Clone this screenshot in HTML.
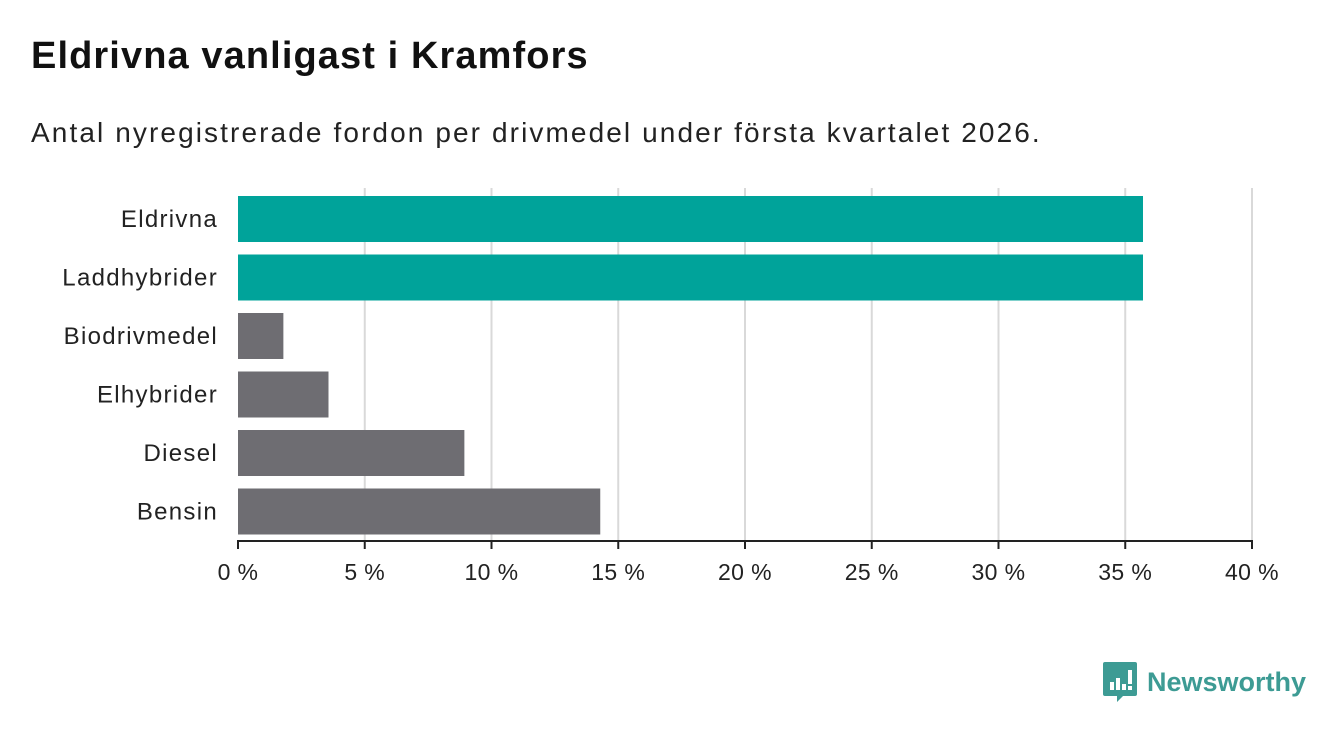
<!DOCTYPE html>
<html><head><meta charset="utf-8"><style>
body{margin:0;width:1340px;height:733px;background:#fff;font-family:"Liberation Sans",sans-serif;overflow:hidden;position:relative}
h1{position:absolute;left:31px;top:35px;margin:0;font-size:38px;font-weight:bold;color:#111;letter-spacing:1.1px}
.sub{position:absolute;left:31px;top:117px;font-size:28px;color:#222;letter-spacing:2.1px}
svg{position:absolute;left:0;top:0}
</style></head><body>
<h1>Eldrivna vanligast i Kramfors</h1>
<div class="sub">Antal nyregistrerade fordon per drivmedel under första kvartalet 2026.</div>
<svg id="chart" width="1340" height="733"></svg>
<div style="position:absolute;left:1103px;top:662px;display:flex;align-items:center">
<svg width="34" height="40" style="position:static" viewBox="0 0 34 40"><path d="M2 0h30a2 2 0 0 1 2 2v30a2 2 0 0 1-2 2H20l-6 6v-6H2a2 2 0 0 1-2-2V2a2 2 0 0 1 2-2z" fill="#3d9b94"/><rect x="7" y="20" width="4" height="8" fill="#fff"/><rect x="13" y="16" width="4" height="12" fill="#fff"/><rect x="19" y="22" width="4" height="6" fill="#fff"/><rect x="25" y="8" width="4" height="14" fill="#fff"/><rect x="25" y="24" width="4" height="4" fill="#fff"/></svg>
<span style="font-size:27px;font-weight:bold;color:#3d9b94;margin-left:10px">Newsworthy</span></div>
<script>
const categories=["Eldrivna","Laddhybrider","Biodrivmedel","Elhybrider","Diesel","Bensin"];
const values=[35.7,35.7,1.79,3.57,8.93,14.29];
const highlight=[true,true,false,false,false,false];
const ticks=[0,5,10,15,20,25,30,35,40];
const tickLabels=["0 %","5 %","10 %","15 %","20 %","25 %","30 %","35 %","40 %"];
const NS="http://www.w3.org/2000/svg",svg=document.getElementById("chart");
const x0=238,x1=1252,xs=v=>x0+(v/40)*(x1-x0);
const yTop=190,pitch=58.5,bh=46,ys=i=>yTop+6+i*pitch;
function mk(t,a){const e=document.createElementNS(NS,t);for(const k in a)e.setAttribute(k,a[k]);svg.appendChild(e);return e;}
ticks.forEach((t,i)=>{
 if(i>0){const g=mk("line",{x1:xs(t),x2:xs(t),y1:188,y2:541,stroke:"#d9d9d9","stroke-width":2});
 
 }
 const tk=mk("line",{x1:xs(t),x2:xs(t),y1:541,y2:549,stroke:"#222","stroke-width":2});
 
 
 const l=mk("text",{x:xs(t),y:580,"text-anchor":"middle","font-size":23,"letter-spacing":0.4,fill:"#222"});l.textContent=tickLabels[i];
 
 
});
categories.forEach((c,i)=>{
 const r=mk("rect",{x:x0,y:ys(i),width:xs(values[i])-x0,height:bh,fill:highlight[i]?"#00a39a":"#6e6d72"});
 
 
 const l=mk("text",{x:218,y:ys(i)+bh/2+8,"text-anchor":"end","font-size":24,"letter-spacing":1.3,fill:"#222"});l.textContent=c;
 
 
});
const ax=mk("line",{x1:x0-1,x2:x1+1,y1:541,y2:541,stroke:"#222","stroke-width":2});


</script>
</body></html>
